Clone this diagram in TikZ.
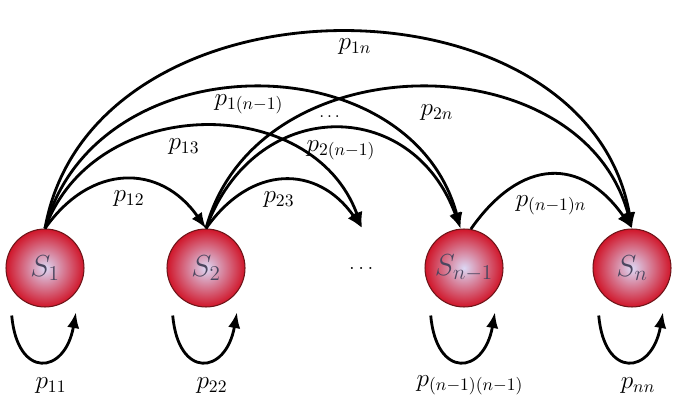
\documentclass[tikz,border=0pt]{standalone}
\usepackage{amsmath}
\usetikzlibrary{arrows.meta}
\definecolor{ballred}{RGB}{208,22,42}
\definecolor{ballcore}{RGB}{220,216,245}
\definecolor{ballrim}{RGB}{110,20,25}
\definecolor{labelgray}{RGB}{75,70,95}
\begin{document}
\begin{tikzpicture}[x=0.02cm,y=0.02cm]
\tikzstyle{every node}+=[inner sep=0pt]
\tikzstyle{state}=[circle, minimum size=1.56cm, draw=ballrim, line width=0.6pt, inner color=ballcore, outer color=ballred, font=\LARGE, text=labelgray]
\tikzstyle{trans}=[line width=1.6pt, -{Latex[length=9pt,width=7pt]}]
\tikzstyle{prob}=[font=\Large]
\useasboundingbox (0,0) rectangle (678,405);
% states
\node[state] (s1) at (45,137) {$S_1$};
\node[state] (s2) at (206,137) {$S_2$};
\node[state] (sm) at (464,137) {$S_{n-1}$};
\node[state] (sn) at (632,137) {$S_n$};
\node[font=\large] (dots) at (363,137) {$\dots$};
\coordinate (d3) at (362,177);
% transitions
\draw[trans] (s1.north) to[out=55,in=125,looseness=1.27] (s2.north);
\draw[trans] (s2.north) to[out=55,in=125,looseness=1.28] (d3);
\draw[trans] (s1.north) to[out=70,in=110,looseness=1.17] (d3);
\draw[trans] (s2.north) to[out=70,in=110,looseness=1.43] (sm.95);
\draw[trans] (s1.north) to[out=75,in=105,looseness=1.2] (sm.95);
\draw[trans] (s2.north) to[out=75,in=105,looseness=1.17] (sn.north);
\draw[trans] (s1.north) to[out=80,in=100,looseness=1.16] (sn.north);
\draw[trans] (sm.80) to[out=55,in=125,looseness=1.39] (sn.north);
% labels
\node[prob] (p12) at (129,206) {$p_{12}$};
\node[prob] (p23) at (279,205) {$p_{23}$};
\node[prob] (p13) at (184,258) {$p_{13}$};
\node[prob] (p2m) at (341,255) {$p_{2(n-1)}$};
\node (mdots) at (331,288) {$\dots$};
\node[prob] (p1m) at (249,301) {$p_{1(n-1)}$};
\node[prob] (p2n) at (437,292) {$p_{2n}$};
\node[prob] (p1n) at (355,358) {$p_{1n}$};
\node[prob] (pmn) at (551,200) {$p_{(n-1)n}$};
% self loops
\foreach \s/\lab in {s1/11, s2/22, sm/{(n-1)(n-1)}, sn/nn} {
  \draw[trans] ([shift={(235:58)}]\s.center) .. controls +(-85:64) and +(-100:64) .. ([shift={(305:54)}]\s.center);
  \node[prob] (p\s) at ([xshift=0.12cm,yshift=-1.56cm]\s.south) {$p_{\lab}$};
}
\end{tikzpicture}
\end{document}
